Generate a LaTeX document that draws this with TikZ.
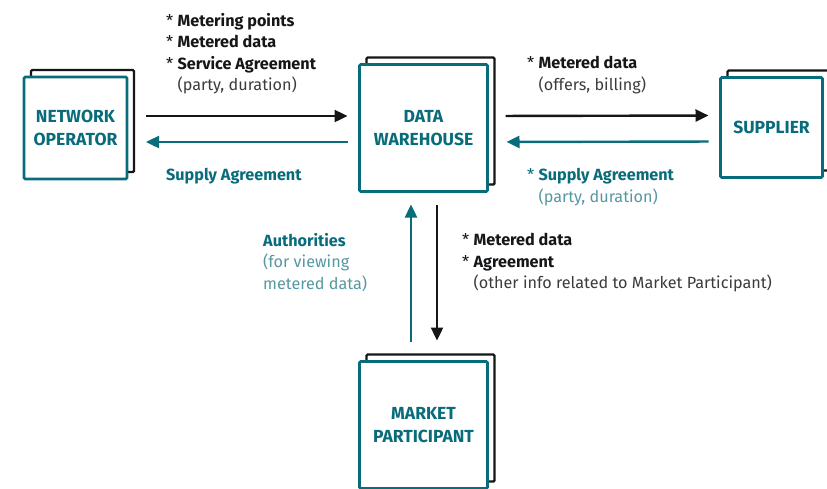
\documentclass[tikz,border=0pt]{standalone}
\usepackage{fontspec}
\setmainfont{Fira Sans}
\usetikzlibrary{arrows.meta,backgrounds}
\definecolor{teal}{RGB}{8,108,122}
\definecolor{lightteal}{RGB}{86,152,162}
\definecolor{ink}{RGB}{20,22,24}
\definecolor{inkgray}{RGB}{60,60,60}
\tikzset{
  entity/.style={draw=teal, fill=white, line width=2.6pt, rounded corners=1.2pt,
    inner sep=0pt, outer sep=0pt, align=center, text=teal,
    font=\fontsize{17.5}{23}\selectfont\bfseries},
  backsheet/.style={draw=ink, fill=white, line width=2.4pt, rounded corners=1.2pt},
  flow/.style={line width=2.4pt, -{Triangle[length=13pt,width=12pt]}},
  fwd/.style={flow, draw=ink},
  back/.style={flow, draw=teal},
  note/.style={anchor=north west, inner sep=0pt, align=left,
    font=\fontsize{16.2}{21.5}\selectfont, text=ink},
}
\newcommand{\backsheet}[1]{%
  \draw[backsheet] ([shift={(7pt,7pt)}]#1.south west) rectangle ([shift={(7pt,7pt)}]#1.north east);}
\begin{document}
\begin{tikzpicture}[x=1pt,y=-1pt]
\useasboundingbox (0,0) rectangle (827,488);

% the four parties
\node[entity, minimum width=103pt, minimum height=102pt] (no) at (75.5,128) {NETWORK\\OPERATOR};
\node[entity, minimum width=128pt, minimum height=127pt] (dw) at (423.5,128) {DATA\\WAREHOUSE};
\node[entity, minimum width=102pt, minimum height=100pt] (su) at (771.5,127.5) {SUPPLIER};
\node[entity, minimum width=128pt, minimum height=127pt] (mp) at (423.5,425) {MARKET\\PARTICIPANT};

\begin{pgfonlayer}{background}
  \fill[white] (0,0) rectangle (827,488);
  \backsheet{no}
  \backsheet{dw}
  \backsheet{su}
  \backsheet{mp}
\end{pgfonlayer}

% flows between network operator and data warehouse
\draw[fwd, shorten <=19pt, shorten >=12pt] ([yshift=12pt]no.east) -- ([yshift=12pt]dw.west);
\draw[back, shorten <=12pt, shorten >=19pt] ([yshift=-14pt]dw.west) -- ([yshift=-14pt]no.east);

% flows between data warehouse and supplier
\draw[fwd, shorten <=18pt, shorten >=12pt] ([yshift=12pt]dw.east) -- ([yshift=12pt]su.west);
\draw[back, shorten <=12pt, shorten >=19pt] ([yshift=-14pt]su.west) -- ([yshift=-14pt]dw.east);

% flows between data warehouse and market participant
\draw[back, shorten <=20pt, shorten >=13pt] ([xshift=-12.5pt]mp.north) -- ([xshift=-12.5pt]dw.south);
\draw[fwd, shorten <=13pt, shorten >=21pt] ([xshift=13.5pt]dw.south) -- ([xshift=13.5pt]mp.north);

% labels
\node[note] (l1) at (166,13) {* \textbf{Metering points}\\* \textbf{Metered data}\\* \textbf{Service Agreement}\\
  \phantom{*\ }\textcolor{inkgray}{(party, duration)}};
\node[note, text=teal] (l2) at (166,168) {\textbf{Supply Agreement}};
\node[note] (l3) at (527,56) {* \textbf{Metered data}\\\phantom{*\ }\textcolor{inkgray}{(offers, billing)}};
\node[note, text=teal] (l4) at (527,168) {* \textbf{Supply Agreement}\\\phantom{*\ }\textcolor{lightteal}{(party, duration)}};
\node[note, text=teal] (l5) at (263,233) {\textbf{Authorities}\\\textcolor{lightteal}{(for viewing}\\\textcolor{lightteal}{metered data)}};
\node[note] (l6) at (462,233) {* \textbf{Metered data}\\* \textbf{Agreement}\\
  \phantom{*\ }\textcolor{inkgray}{(other info related to Market Participant)}};
\end{tikzpicture}
\end{document}
